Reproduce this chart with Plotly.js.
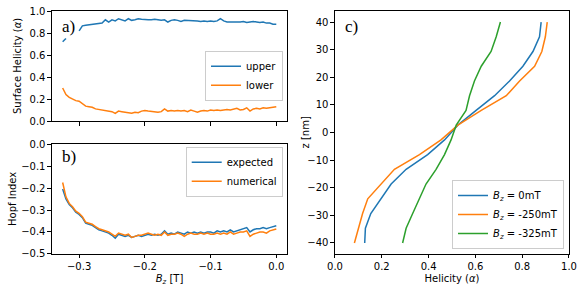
<!DOCTYPE html>
<html>
<head>
<meta charset="utf-8">
<script src="https://cdn.plot.ly/plotly-3.0.1.min.js"></script>
<style>html,body{margin:0;padding:0;background:#fff;}#chart{width:584px;height:296px;}</style>
</head>
<body>
<div id="chart"></div>
<script>
// ---- Data ----
var Bz = [-0.325,-0.320,-0.315,-0.310,-0.305,-0.300,-0.295,-0.290,-0.285,-0.280,
          -0.275,-0.270,-0.265,-0.260,-0.255,-0.250,-0.245,-0.240,-0.235,-0.230,
          -0.225,-0.220,-0.215,-0.210,-0.205,-0.200,-0.195,-0.190,-0.185,-0.180,
          -0.175,-0.170,-0.165,-0.160,-0.155,-0.150,-0.145,-0.140,-0.135,-0.130,
          -0.125,-0.120,-0.115,-0.110,-0.105,-0.100,-0.095,-0.090,-0.085,-0.080,
          -0.075,-0.070,-0.065,-0.060,-0.055,-0.050,-0.045,-0.040,-0.035,-0.030,
          -0.025,-0.020,-0.015,-0.010,-0.005,0.000];

var upper = [0.72,0.75,null,null,null,0.82,0.865,0.87,0.875,0.88,
             0.885,0.89,0.89,0.92,0.90,0.92,0.91,0.93,0.92,0.91,
             0.93,0.915,0.92,0.93,0.925,0.92,0.92,0.92,0.925,0.92,
             0.915,0.92,0.90,0.915,0.92,0.915,0.905,0.915,0.915,0.91,
             0.91,0.91,0.905,0.91,0.905,0.91,0.905,0.91,0.93,0.91,
             0.90,0.90,0.895,0.90,0.90,0.905,0.895,0.90,0.905,0.90,
             0.895,0.90,0.89,0.89,0.88,0.88];

var lower = [0.30,0.24,0.215,0.20,0.185,0.18,0.16,0.135,0.13,0.125,
             0.11,0.105,0.10,0.10,0.09,0.085,0.07,0.09,0.085,0.08,
             0.075,0.07,0.08,0.075,0.09,0.095,0.09,0.085,0.085,0.08,
             0.085,0.11,0.09,0.095,0.09,0.095,0.09,0.095,0.085,0.10,
             0.09,0.08,0.09,0.095,0.09,0.10,0.095,0.10,0.095,0.10,
             0.105,0.10,0.105,0.115,0.10,0.105,0.12,0.09,0.11,0.115,
             0.11,0.12,0.115,0.12,0.125,0.13];

var expected = [-0.205,-0.25,-0.275,-0.29,-0.31,-0.32,-0.335,-0.36,-0.365,-0.37,
                -0.38,-0.39,-0.395,-0.40,-0.405,-0.415,-0.428,-0.41,-0.415,-0.42,
                -0.415,-0.425,-0.42,-0.415,-0.42,-0.415,-0.41,-0.415,-0.41,-0.415,
                -0.41,-0.395,-0.41,-0.405,-0.41,-0.40,-0.405,-0.41,-0.40,-0.405,
                -0.40,-0.405,-0.40,-0.405,-0.40,-0.40,-0.405,-0.395,-0.40,-0.395,
                -0.40,-0.39,-0.40,-0.395,-0.39,-0.385,-0.38,-0.40,-0.39,-0.385,
                -0.385,-0.38,-0.385,-0.38,-0.375,-0.372];

var numerical = [-0.175,-0.24,-0.27,-0.285,-0.305,-0.315,-0.33,-0.355,-0.36,-0.365,
                 -0.375,-0.385,-0.39,-0.395,-0.40,-0.41,-0.42,-0.405,-0.41,-0.415,
                 -0.41,-0.425,-0.42,-0.415,-0.415,-0.41,-0.405,-0.41,-0.415,-0.41,
                 -0.415,-0.40,-0.415,-0.41,-0.41,-0.405,-0.41,-0.42,-0.41,-0.405,
                 -0.41,-0.41,-0.405,-0.41,-0.405,-0.41,-0.41,-0.405,-0.41,-0.405,
                 -0.41,-0.40,-0.41,-0.405,-0.40,-0.40,-0.395,-0.42,-0.41,-0.405,
                 -0.40,-0.40,-0.405,-0.395,-0.39,-0.386];

var zNm = [-40,-34.67,-29.33,-24,-18.67,-13.33,-8,-2.67,2.67,8,13.33,18.67,24,29.33,34.67,40];
var hel0   = [0.127,0.130,0.153,0.195,0.240,0.304,0.396,0.468,0.525,0.603,0.682,0.746,0.803,0.846,0.874,0.881];
var hel250 = [0.083,0.100,0.118,0.140,0.197,0.254,0.361,0.453,0.525,0.625,0.732,0.789,0.853,0.884,0.899,0.907];
var hel325 = [0.289,0.304,0.332,0.361,0.389,0.432,0.468,0.496,0.518,0.560,0.575,0.596,0.625,0.667,0.689,0.707];

var names_a = ['upper','lower'];
var names_b = ['expected','numerical'];
var names_c = ['<i>B<sub>z</sub></i> = 0mT','<i>B<sub>z</sub></i> = -250mT','<i>B<sub>z</sub></i> = -325mT'];
var ytitles = ['Surface Helicity (<i>α</i>)', 'Hopf Index', 'z [nm]'];

// ---- Styles ----
var C1 = '#1f77b4', C2 = '#ff7f0e', C3 = '#2ca02c';
var LW = 1.5;

var traces = [
  {x: Bz, y: upper, name: names_a[0], mode:'lines', line:{color:C1,width:LW}, xaxis:'x', yaxis:'y', legend:'legend', connectgaps:false},
  {x: Bz, y: lower, name: names_a[1], mode:'lines', line:{color:C2,width:LW}, xaxis:'x', yaxis:'y', legend:'legend'},
  {x: Bz, y: expected, name: names_b[0], mode:'lines', line:{color:C1,width:LW}, xaxis:'x2', yaxis:'y2', legend:'legend2'},
  {x: Bz, y: numerical, name: names_b[1], mode:'lines', line:{color:C2,width:LW}, xaxis:'x2', yaxis:'y2', legend:'legend2'},
  {x: hel0, y: zNm, name: names_c[0], mode:'lines', line:{color:C1,width:LW}, xaxis:'x3', yaxis:'y3', legend:'legend3'},
  {x: hel250, y: zNm, name: names_c[1], mode:'lines', line:{color:C2,width:LW}, xaxis:'x3', yaxis:'y3', legend:'legend3'},
  {x: hel325, y: zNm, name: names_c[2], mode:'lines', line:{color:C3,width:LW}, xaxis:'x3', yaxis:'y3', legend:'legend3'}
];

function ax(extra){
  var base = {showline:true, mirror:true, linecolor:'black', linewidth:1, ticks:'outside', ticklen:3.5, tickwidth:1,
              tickcolor:'black', showgrid:false, zeroline:false, automargin:false,
              tickfont:{family:'DejaVu Sans', size:10, color:'black'}};
  for (var k in extra) base[k] = extra[k];
  return base;
}
var titleFont = {family:'DejaVu Sans', size:10, color:'black'};
var legBase = {bgcolor:'white', bordercolor:'#cccccc', borderwidth:1, font:{family:'DejaVu Sans', size:10, color:'black'},
               xref:'paper', yref:'paper', itemwidth:30, tracegroupgap:0};
function leg(extra){ var o = JSON.parse(JSON.stringify(legBase)); for (var k in extra) o[k]=extra[k]; return o; }
function ytitle(txt, px, py){
  return {text:txt, xref:'paper', yref:'paper', x:px/584, y:1-py/296, xanchor:'center', yanchor:'middle',
          textangle:-90, showarrow:false, font:titleFont};
}
function panelLabel(txt, px, py){
  return {text:txt, xref:'paper', yref:'paper', x:px/584, y:1-py/296, xanchor:'left', yanchor:'middle', showarrow:false,
          font:{family:'Liberation Serif', size:17, color:'black'}};
}

var layout = {
  width:584, height:296, margin:{l:0,r:0,t:0,b:0},
  paper_bgcolor:'white', plot_bgcolor:'white',
  font:{family:'DejaVu Sans', size:10, color:'black'},
  showlegend:true,
  xaxis: ax({domain:[0.0890,0.4914], anchor:'y', range:[-0.34125,0.01625], tick0:0, dtick:0.1, showticklabels:false}),
  yaxis: ax({domain:[0.5912,0.9628], anchor:'x', range:[0,1], tick0:0, dtick:0.2, tickformat:'.1f'}),
  xaxis2: ax({domain:[0.0890,0.4914], anchor:'y2', range:[-0.34125,0.01625], tick0:0, dtick:0.1, tickformat:'.1f',
             title:{text:'<i>B<sub>z</sub></i> [T]', font:titleFont, standoff:3}}),
  yaxis2: ax({domain:[0.1419,0.5135], anchor:'x2', range:[-0.5,0], tick0:0, dtick:0.1, tickformat:'.1f'}),
  xaxis3: ax({domain:[0.5736,0.9743], anchor:'y3', range:[0,1], tick0:0, dtick:0.2, tickformat:'.1f',
             title:{text:'Helicity (<i>α</i>)', font:titleFont, standoff:3}}),
  yaxis3: ax({domain:[0.1419,0.9628], anchor:'x3', range:[-44,44], tick0:0, dtick:10}),
  legend: leg({x:0.4846, y:0.8287, xanchor:'right', yanchor:'top'}),
  legend2: leg({x:0.4841, y:0.5044, xanchor:'right', yanchor:'top'}),
  legend3: leg({x:0.9658, y:0.1588, xanchor:'right', yanchor:'bottom'}),
  annotations: [
    ytitle(ytitles[0], 17, 66),
    ytitle(ytitles[1], 12, 199),
    ytitle(ytitles[2], 305, 132.5),
    panelLabel('a)', 60, 26.5),
    panelLabel('b)', 60, 156.5),
    panelLabel('c)', 343, 26.5)
  ]
};

Plotly.newPlot('chart', traces, layout, {displayModeBar:false, staticPlot:true});
</script>
</body>
</html>
